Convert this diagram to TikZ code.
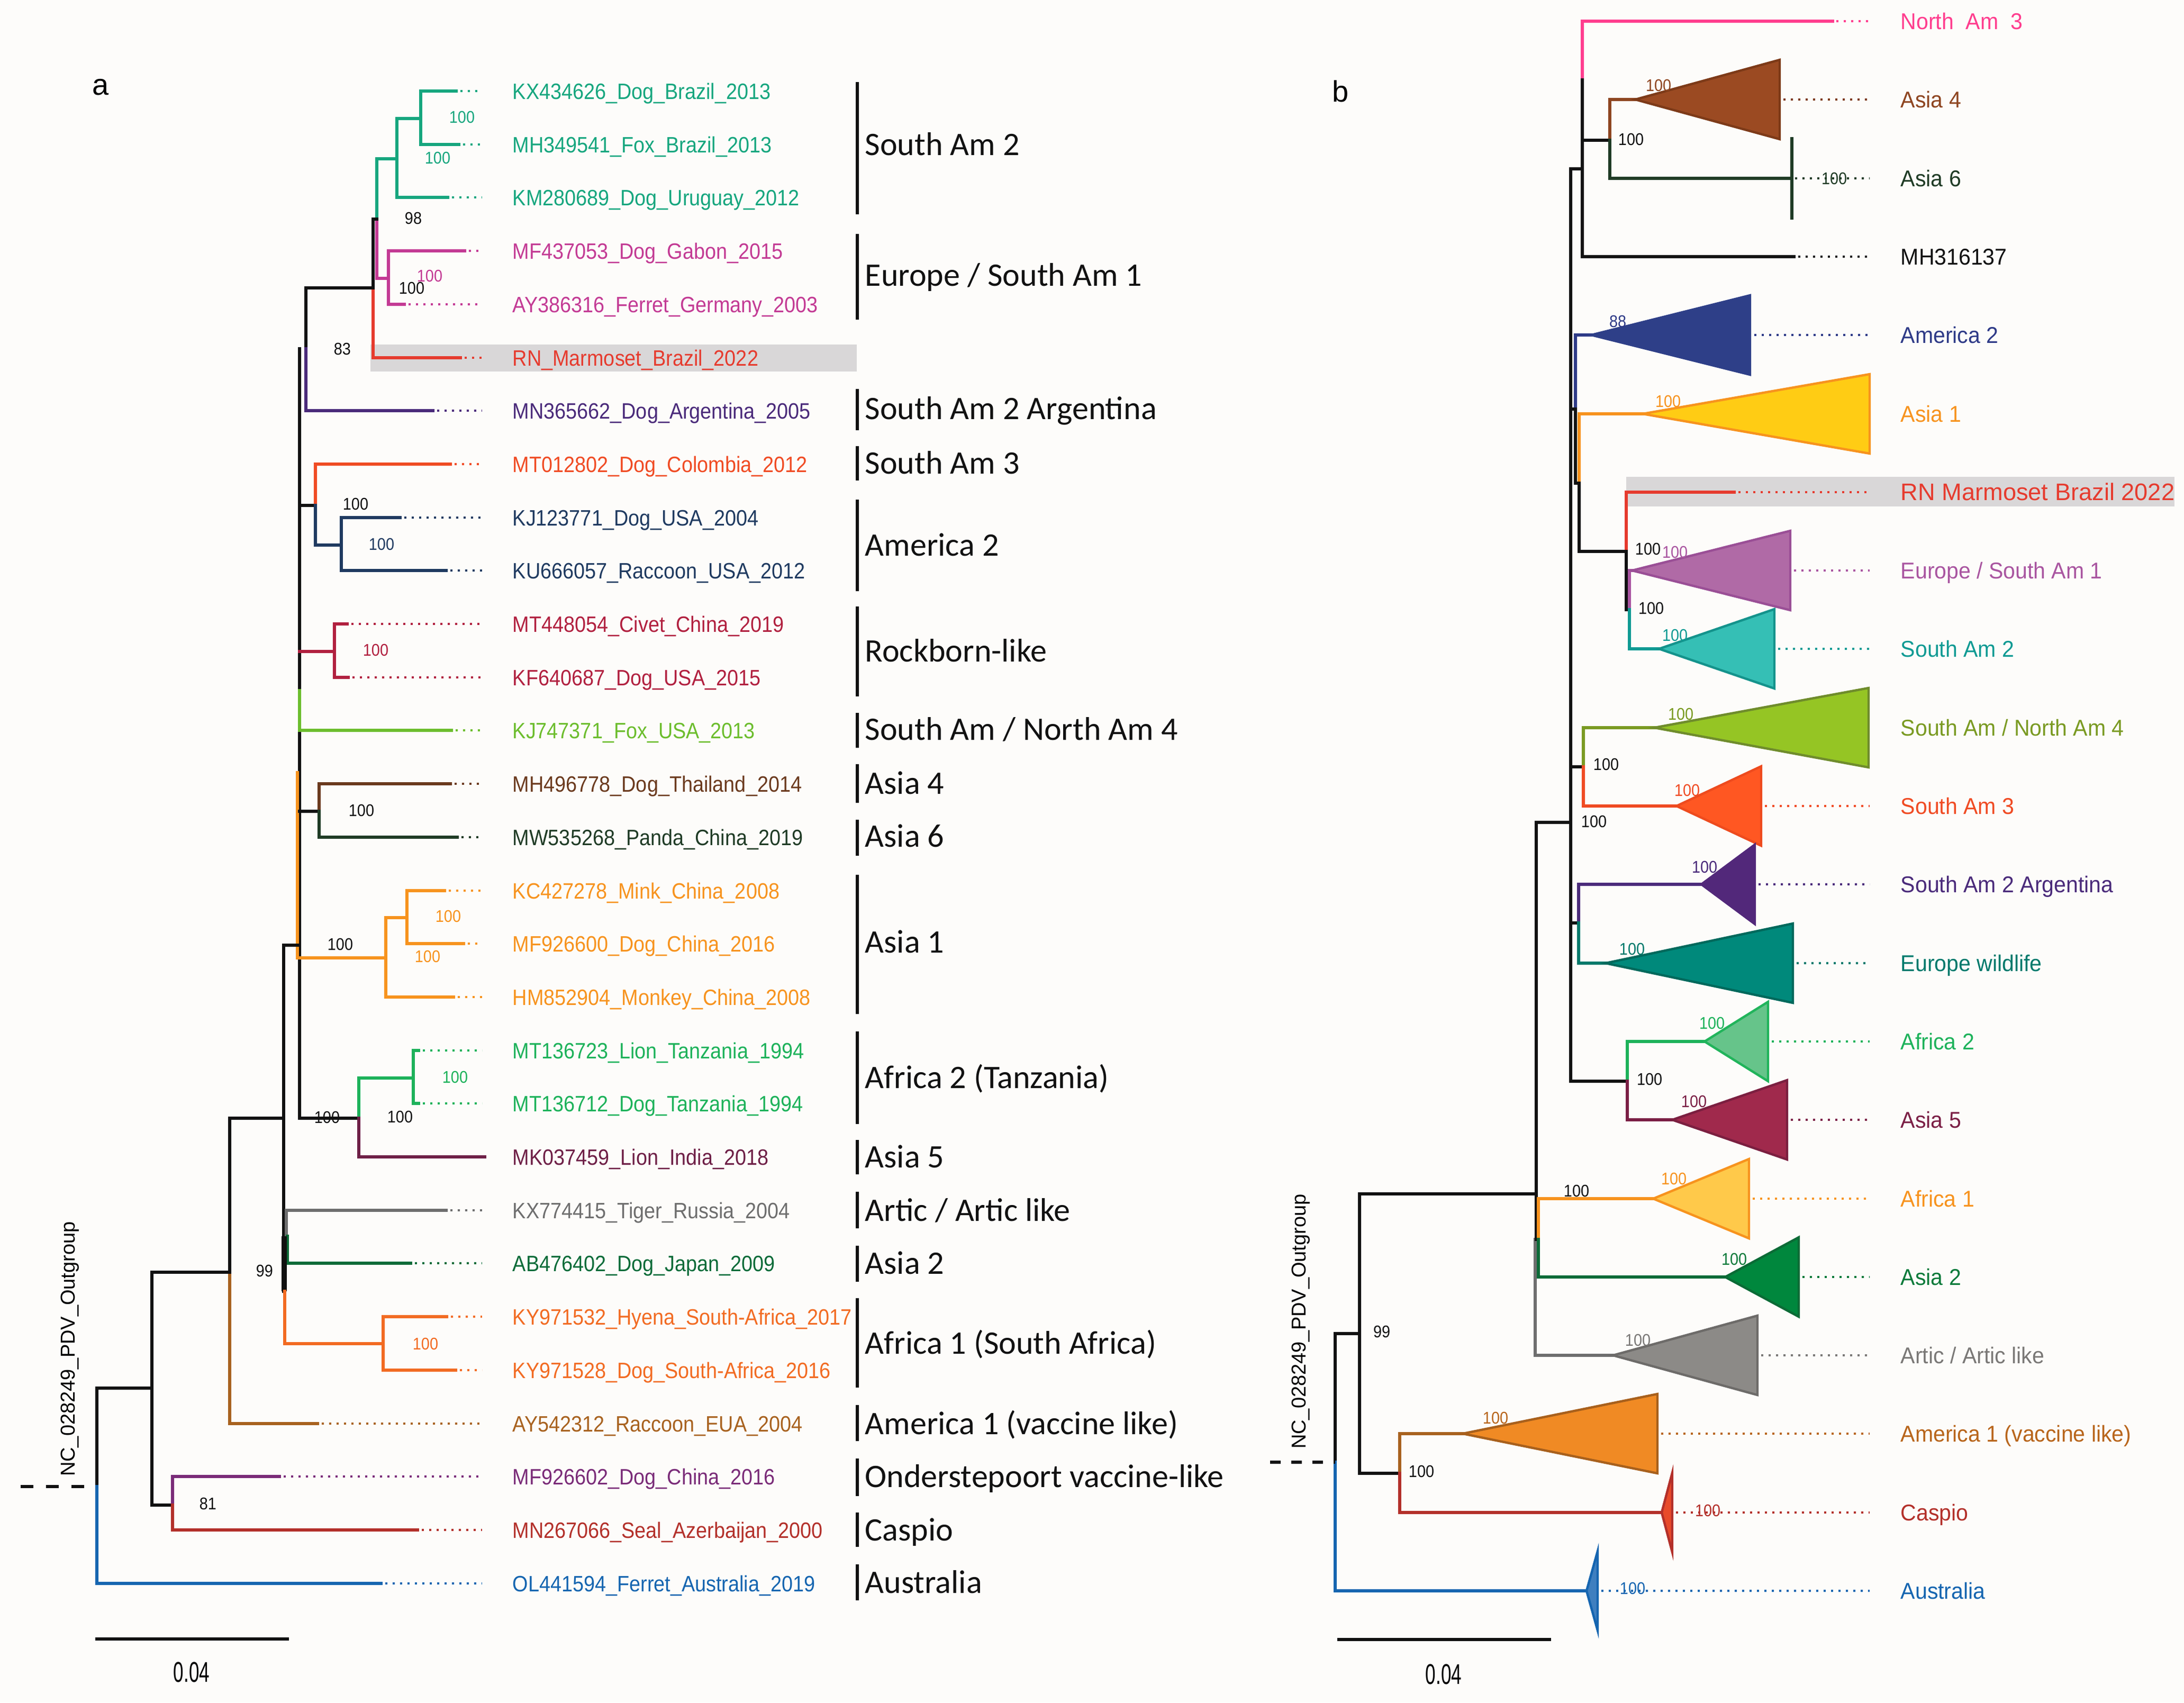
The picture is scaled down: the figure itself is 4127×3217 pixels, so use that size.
\documentclass[tikz,border=0pt]{standalone}
\usepackage{fontspec}
\newfontfamily\tipf[FakeStretch=0.9]{Liberation Sans}
\newfontfamily\rtf[FakeStretch=0.95]{Liberation Sans}
\newfontfamily\cladef{Carlito}
\newfontfamily\plainf{Liberation Sans}
\newfontfamily\scalef[FakeStretch=0.65]{Liberation Sans}
% left colours
\definecolor{bgc}{HTML}{FDFCFA}
\definecolor{hlgrey}{HTML}{D9D7D8}
\definecolor{sa2g}{HTML}{16A67E}
\definecolor{eupk}{HTML}{C33A94}
\definecolor{rnred}{HTML}{E63B2E}
\definecolor{argpu}{HTML}{4A2A7A}
\definecolor{sa3r}{HTML}{F04B23}
\definecolor{am2n}{HTML}{1F3A60}
\definecolor{rockc}{HTML}{B1203F}
\definecolor{lime}{HTML}{6CBD2D}
\definecolor{a4br}{HTML}{6B3A1E}
\definecolor{a6dg}{HTML}{1F3B25}
\definecolor{a1or}{HTML}{F7931E}
\definecolor{af2g}{HTML}{1DB25A}
\definecolor{a5m}{HTML}{6E1F46}
\definecolor{artg}{HTML}{6E6E6E}
\definecolor{a2dg}{HTML}{0D6B38}
\definecolor{af1o}{HTML}{F26B22}
\definecolor{am1b}{HTML}{A8621F}
\definecolor{ondp}{HTML}{7A2B78}
\definecolor{caspr}{HTML}{B3302A}
\definecolor{ausb}{HTML}{1565B0}
\definecolor{ink}{HTML}{111111}
% right colours
\definecolor{na3}{HTML}{FF3D8E}
\definecolor{ra4}{HTML}{8E4520}\definecolor{ra4f}{HTML}{9B4A22}\definecolor{ra4d}{HTML}{7D3A18}
\definecolor{ram2}{HTML}{2E3A87}\definecolor{ram2f}{HTML}{2E3F88}
\definecolor{ra1f}{HTML}{FFCC14}
\definecolor{reu}{HTML}{A955A0}\definecolor{reuf}{HTML}{B06AA6}\definecolor{reud}{HTML}{9A4F96}
\definecolor{rsa2}{HTML}{109A93}\definecolor{rsa2f}{HTML}{35BFB5}\definecolor{rsa2d}{HTML}{14938C}
\definecolor{rna4}{HTML}{7A9A22}\definecolor{rna4f}{HTML}{95C524}\definecolor{rna4d}{HTML}{6F8C2C}
\definecolor{rsa3f}{HTML}{FF5722}\definecolor{rsa3d}{HTML}{EE4B1E}
\definecolor{rargf}{HTML}{52287A}
\definecolor{rew}{HTML}{00796B}\definecolor{rewf}{HTML}{00897B}\definecolor{rewd}{HTML}{00695C}
\definecolor{raf2f}{HTML}{66C48A}\definecolor{raf2d}{HTML}{21B45B}
\definecolor{ra5}{HTML}{7B1F45}\definecolor{ra5f}{HTML}{A0294C}\definecolor{ra5d}{HTML}{7B1F40}
\definecolor{raf1f}{HTML}{FFC94A}
\definecolor{ra2}{HTML}{0D7A3A}\definecolor{ra2f}{HTML}{00873D}\definecolor{ra2d}{HTML}{0B6B36}
\definecolor{rart}{HTML}{7A7876}\definecolor{rartf}{HTML}{8C8A87}\definecolor{rartd}{HTML}{6D6B69}
\definecolor{ram1}{HTML}{B8651B}\definecolor{ram1f}{HTML}{F08A24}\definecolor{ram1d}{HTML}{A8601C}
\definecolor{rcaspf}{HTML}{E84A2A}
\definecolor{rausf}{HTML}{3F7FBF}
\newcommand{\ctri}[5]{\filldraw[tri, fill=#4, draw=#5] (#1,#3) -- (#2,#3-75) -- (#2,#3+75) -- cycle;}
\begin{document}
\begin{tikzpicture}[x=0.25pt,y=-0.25pt,
 br/.style={line width=1.4pt, line cap=rect},
 lead/.style={line width=1.1pt, dash pattern=on 1.1pt off 2.4pt, line cap=butt},
 tip/.style={anchor=base west, inner sep=0, font=\tipf\fontsize{10.5}{12}\selectfont},
 bsl/.style={inner sep=0, font=\tipf\fontsize{8}{9}\selectfont},
 clade/.style={anchor=base west, inner sep=0, text=ink, font=\cladef\fontsize{15.5}{18}\selectfont},
 cbar/.style={line width=1.6pt, ink},
 rlab/.style={anchor=base west, inner sep=0, font=\rtf\fontsize{10.8}{12}\selectfont},
 tri/.style={line width=1.1pt, line join=miter},
 panel/.style={inner sep=0, font=\plainf\fontsize{14}{16}\selectfont},
 outg/.style={inner sep=0, rotate=90, font=\plainf\fontsize{9.5}{11}\selectfont},
 scl/.style={inner sep=0, font=\scalef\fontsize{13.5}{15}\selectfont}]
\useasboundingbox (0,0) rectangle (4127,3217);
\fill[bgc] (0,0) rectangle (4127,3217);

% ================= LEFT PANEL =================
\node[panel] (pa) at (190,165) {a};
\fill[hlgrey] (700,651) rectangle (1619,702);

% South Am 2 (green)
\draw[br,sa2g] (795,172) -- (862,172);
\draw[br,sa2g] (795,273) -- (867,273);
\draw[br,sa2g] (795,172) -- (795,273);
\draw[br,sa2g] (750,224) -- (795,224);
\draw[br,sa2g] (750,224) -- (750,373) -- (846,373);
\draw[br,sa2g] (712,414) -- (712,300) -- (750,300);
% Europe / South Am 1 (pink)
\draw[br,eupk] (712,414) -- (712,526) -- (734,526);
\draw[br,eupk] (734,474) -- (734,575);
\draw[br,eupk] (734,474) -- (878,474);
\draw[br,eupk] (734,575) -- (764,575);
% RN
\draw[br,ink] (705,414) -- (712,414);
\draw[br,ink] (705,544) -- (705,414);
\draw[br,rnred] (705,544) -- (705,676) -- (870,676);
\draw[br,ink] (578,544) -- (705,544);
\draw[br,ink] (578,659) -- (578,544);
\draw[br,argpu] (578,659) -- (578,776) -- (818,776);
% backbone N_C
\draw[br,ink] (566,659) -- (566,2113);
\draw[br,lime] (566,1305) -- (566,1380) -- (853,1380);
\draw[br,a1or] (562,1460) -- (562,1810) -- (729,1810);
% South Am 3 / America 2
\draw[br,ink] (566,955) -- (596,955);
\draw[br,sa3r] (596,955) -- (596,877) -- (851,877);
\draw[br,am2n] (596,955) -- (596,1030) -- (645,1030);
\draw[br,am2n] (645,978) -- (645,1078);
\draw[br,am2n] (645,978) -- (756,978);
\draw[br,am2n] (645,1078) -- (843,1078);
% Rockborn
\draw[br,rockc] (566,1231) -- (632,1231);
\draw[br,rockc] (632,1179) -- (632,1280);
\draw[br,rockc] (632,1179) -- (656,1179);
\draw[br,rockc] (632,1280) -- (658,1280);
% Asia 4 / 6
\draw[br,ink] (566,1533) -- (603,1533);
\draw[br,a4br] (603,1533) -- (603,1481) -- (851,1481);
\draw[br,a6dg] (603,1533) -- (603,1582) -- (864,1582);
% Asia 1
\draw[br,a1or] (729,1734) -- (729,1884) -- (857,1884);
\draw[br,a1or] (729,1734) -- (769,1734);
\draw[br,a1or] (769,1683) -- (769,1783);
\draw[br,a1or] (769,1683) -- (840,1683);
\draw[br,a1or] (769,1783) -- (876,1783);
% Africa 2 / Asia 5
\draw[br,ink] (566,2113) -- (678,2113);
\draw[br,af2g] (678,2113) -- (678,2037) -- (781,2037);
\draw[br,af2g] (781,1985) -- (781,2085);
\draw[br,af2g] (781,1985) -- (791,1985);
\draw[br,af2g] (781,2085) -- (791,2085);
\draw[br,a5m] (678,2113) -- (678,2186) -- (916,2186);
% N_B
\draw[br,ink] (536,1786) -- (566,1786);
\draw[br,ink] (536,1786) -- (536,2440);
\draw[br,artg] (541,2336) -- (541,2287) -- (843,2287);
\draw[br,a2dg] (543,2336) -- (543,2387) -- (776,2387);
\draw[line width=2.4pt,ink] (537,2336) -- (537,2440);
\draw[br,af1o] (538,2440) -- (538,2539) -- (724,2539);
\draw[br,af1o] (724,2488) -- (724,2589);
\draw[br,af1o] (724,2488) -- (844,2488);
\draw[br,af1o] (724,2589) -- (861,2589);
\draw[br,ink] (434,2113) -- (536,2113);
% N_A
\draw[br,ink] (434,2404) -- (434,2113);
\draw[br,am1b] (434,2404) -- (434,2690) -- (600,2690);
\draw[br,ink] (287,2404) -- (434,2404);
% N_R, N_O
\draw[br,ink] (287,2404) -- (287,2844) -- (326,2844);
\draw[br,ink] (183,2623) -- (287,2623);
\draw[br,ondp] (326,2844) -- (326,2790) -- (528,2790);
\draw[br,caspr] (326,2844) -- (326,2891) -- (789,2891);
% root
\draw[br,ink] (183,2809) -- (183,2623);
\draw[br,ausb] (183,2809) -- (183,2992) -- (720,2992);
\draw[line width=1.4pt,ink,dash pattern=on 6pt off 6pt] (39,2809) -- (183,2809);

% tip leaders and labels
\foreach \y/\t/\c/\x [count=\i] in {
172/KX434626\_Dog\_Brazil\_2013/sa2g/862,
273/MH349541\_Fox\_Brazil\_2013/sa2g/867,
373/KM280689\_Dog\_Uruguay\_2012/sa2g/846,
474/MF437053\_Dog\_Gabon\_2015/eupk/878,
575/AY386316\_Ferret\_Germany\_2003/eupk/764,
676/RN\_Marmoset\_Brazil\_2022/rnred/870,
776/MN365662\_Dog\_Argentina\_2005/argpu/818,
877/MT012802\_Dog\_Colombia\_2012/sa3r/851,
978/KJ123771\_Dog\_USA\_2004/am2n/756,
1078/KU666057\_Raccoon\_USA\_2012/am2n/843,
1179/MT448054\_Civet\_China\_2019/rockc/656,
1280/KF640687\_Dog\_USA\_2015/rockc/658,
1380/KJ747371\_Fox\_USA\_2013/lime/853,
1481/MH496778\_Dog\_Thailand\_2014/a4br/851,
1582/MW535268\_Panda\_China\_2019/a6dg/864,
1683/KC427278\_Mink\_China\_2008/a1or/840,
1783/MF926600\_Dog\_China\_2016/a1or/876,
1884/HM852904\_Monkey\_China\_2008/a1or/857,
1985/MT136723\_Lion\_Tanzania\_1994/af2g/791,
2085/MT136712\_Dog\_Tanzania\_1994/af2g/791,
2186/MK037459\_Lion\_India\_2018/a5m/903,
2287/KX774415\_Tiger\_Russia\_2004/artg/843,
2387/AB476402\_Dog\_Japan\_2009/a2dg/776,
2488/KY971532\_Hyena\_South-Africa\_2017/af1o/844,
2589/KY971528\_Dog\_South-Africa\_2016/af1o/861,
2690/AY542312\_Raccoon\_EUA\_2004/am1b/600,
2790/MF926602\_Dog\_China\_2016/ondp/528,
2891/MN267066\_Seal\_Azerbaijan\_2000/caspr/789,
2992/OL441594\_Ferret\_Australia\_2019/ausb/720}{
 \draw[lead,\c] (\x+8,\y) -- (911,\y);
 \node[tip,text=\c] (tipL\i) at (968,\y+15) {\t};
}

% bootstrap values (left)
\node[bsl,text=sa2g] (bl1) at (873,221) {100};
\node[bsl,text=sa2g] (bl2) at (827,298) {100};
\node[bsl,text=ink] (bl3) at (781,412) {98};
\node[bsl,text=eupk] (bl4) at (812,521) {100};
\node[bsl,text=ink] (bl5) at (778,544) {100};
\node[bsl,text=ink] (bl6) at (647,659) {83};
\node[bsl,text=ink] (bl7) at (672,952) {100};
\node[bsl,text=am2n] (bl8) at (721,1028) {100};
\node[bsl,text=rockc] (bl9) at (710,1228) {100};
\node[bsl,text=ink] (bl10) at (683,1531) {100};
\node[bsl,text=ink] (bl11) at (643,1784) {100};
\node[bsl,text=a1or] (bl12) at (847,1731) {100};
\node[bsl,text=a1or] (bl13) at (808,1807) {100};
\node[bsl,text=af2g] (bl14) at (860,2035) {100};
\node[bsl,text=ink] (bl15) at (618,2111) {100};
\node[bsl,text=ink] (bl16) at (756,2110) {100};
\node[bsl,text=ink] (bl17) at (500,2401) {99};
\node[bsl,text=af1o] (bl18) at (804,2539) {100};
\node[bsl,text=ink] (bl19) at (393,2841) {81};

% clade bars and labels
\foreach \a/\b/\c/\t [count=\i] in {
155/405/273/South Am 2,
735/813/772/South Am 2 Argentina,
843/908/875/South Am 3,
944/1117/1030/America 2,
1146/1316/1230/Rockborn-like,
1444/1517/1480/Asia 4,
1549/1617/1580/Asia 6,
1653/1916/1780/Asia 1,
1949/2124/2036/Africa 2 (Tanzania),
2154/2219/2186/Asia 5,
2354/2422/2387/Asia 2,
2453/2622/2538/Africa 1 (South Africa),
2655/2723/2690/America 1 (vaccine like),
2756/2827/2790/Onderstepoort vaccine-like,
2858/2923/2891/Caspio,
2956/3024/2990/Australia}{
 \draw[cbar] (1620,\a) -- (1620,\b);
 \node[clade] (cl\i) at (1634,\c+20) {\t};
}
\draw[cbar] (1620,442) -- (1620,604);
\node[clade] (clEu) at (1634,540) {Europe / South Am 1};
\draw[cbar] (1620,1347) -- (1620,1413);
\node[clade] (clNA4) at (1634,1398) {South Am / North Am 4};
\draw[cbar] (1620,2252) -- (1620,2321);
\node[clade] (clArt) at (1634,2307) {Artic / Artic like};

% outgroup and scale (left)
\node[outg] (ogL) at (132,2549) {NC\_028249\_PDV\_Outgroup};
\draw[line width=1.4pt,ink] (180,3097) -- (546,3097);
\node[scl] (sL) at (362,3160) {0.04};

% ================= RIGHT PANEL =================
\node[panel] (pb) at (2533,172) {b};
\fill[hlgrey] (3073,901) rectangle (4109,957);

% top group
\draw[br,na3] (2990,151) -- (2990,40) -- (3463,40);
\draw[br,ink] (2990,151) -- (2990,485) -- (3390,485);
\draw[br,ink] (2968,319) -- (2990,319);
\draw[br,ink] (2990,265) -- (3042,265);
\draw[br,ra4] (3042,265) -- (3042,188) -- (3090,188);
\draw[br,a6dg] (3042,265) -- (3042,337) -- (3386,337);
\draw[br,a6dg] (3386,262) -- (3386,412);
% backbone
\draw[br,ink] (2968,319) -- (2968,2043);
\draw[br,ink] (2903,1554) -- (2968,1554);
% America 2 / Asia 1 / RN group
\draw[br,ink] (2968,773) -- (2977,773);
\draw[br,ram2] (2977,773) -- (2977,633) -- (3007,633);
\draw[br,ink] (2977,773) -- (2977,913) -- (2984,913);
\draw[br,a1or] (2984,913) -- (2984,782) -- (3104,782);
\draw[br,ink] (2984,913) -- (2984,1042) -- (3073,1042);
\draw[br,rnred] (3073,1042) -- (3073,930) -- (3277,930);
\draw[br,ink] (3073,1042) -- (3073,1152) -- (3079,1152);
\draw[br,reu] (3079,1152) -- (3079,1078) -- (3084,1078);
\draw[br,rsa2] (3079,1152) -- (3079,1226) -- (3135,1226);
% SA/NA4 + SA3
\draw[br,ink] (2968,1449) -- (2992,1449);
\draw[br,rna4] (2992,1449) -- (2992,1375) -- (3126,1375);
\draw[br,sa3r] (2992,1449) -- (2992,1523) -- (3168,1523);
% Arg + Europe wildlife
\draw[br,ink] (2968,1744) -- (2983,1744);
\draw[br,argpu] (2983,1744) -- (2983,1671) -- (3215,1671);
\draw[br,rew] (2983,1744) -- (2983,1820) -- (3034,1820);
% Africa 2 + Asia 5
\draw[br,ink] (2968,2043) -- (3075,2043);
\draw[br,af2g] (3075,2043) -- (3075,1968) -- (3221,1968);
\draw[br,ra5] (3075,2043) -- (3075,2116) -- (3160,2116);
% N_7
\draw[br,ink] (2903,1554) -- (2903,2342);
\draw[br,artg] (2901,2342) -- (2901,2561) -- (3048,2561);
\draw[br,ink] (2903,2342) -- (2907,2342);
\draw[br,a1or] (2907,2342) -- (2907,2265) -- (3124,2265);
\draw[br,a2dg] (2907,2342) -- (2907,2413) -- (3260,2413);
% N_8, N_9, root
\draw[br,ink] (2569,2520) -- (2569,2256) -- (2903,2256);
\draw[br,ink] (2569,2520) -- (2569,2784) -- (2645,2784);
\draw[br,am1b] (2645,2784) -- (2645,2709) -- (2764,2709);
\draw[br,caspr] (2645,2784) -- (2645,2858) -- (3143,2858);
\draw[br,ink] (2523,2763) -- (2523,2520) -- (2569,2520);
\draw[br,ausb] (2523,2763) -- (2523,3006) -- (3000,3006);
\draw[line width=1.4pt,ink,dash pattern=on 5pt off 5pt] (2400,2763) -- (2523,2763);

% collapsed clades
\ctri{3090}{3363}{188}{ra4f}{ra4d}
\ctri{3007}{3307}{633}{ram2f}{ram2f}
\ctri{3104}{3533}{782}{ra1f}{a1or}
\ctri{3084}{3383}{1078}{reuf}{reud}
\ctri{3135}{3353}{1226}{rsa2f}{rsa2d}
\ctri{3126}{3531}{1375}{rna4f}{rna4d}
\ctri{3168}{3328}{1523}{rsa3f}{rsa3d}
\ctri{3215}{3316}{1671}{rargf}{rargf}
\ctri{3034}{3388}{1820}{rewf}{rewd}
\ctri{3221}{3341}{1968}{raf2f}{raf2d}
\ctri{3160}{3377}{2116}{ra5f}{ra5d}
\ctri{3124}{3305}{2265}{raf1f}{a1or}
\ctri{3260}{3399}{2413}{ra2f}{ra2d}
\ctri{3048}{3321}{2561}{rartf}{rartd}
\ctri{2764}{3132}{2709}{ram1f}{ram1d}
\ctri{3140}{3160}{2858}{rcaspf}{caspr}
\ctri{2998}{3019}{3006}{rausf}{ausb}

% right leaders
\foreach \s/\y/\c in {3470/40/na3, 3370/188/ra4d, 3392/337/a6dg, 3398/485/ink,
 3315/633/ram2, 3285/930/rnred, 3390/1078/reu, 3360/1226/rsa2, 3335/1523/sa3r,
 3323/1671/argpu, 3395/1820/rew, 3348/1968/af2g, 3384/2116/ra5, 3312/2265/a1or,
 3406/2413/ra2, 3328/2561/rart, 3139/2709/ram1, 3167/2858/caspr, 3026/3006/ausb}{
 \draw[lead,\c] (\s,\y) -- (3533,\y);
}

% right labels
\node[rlab,text=na3] (rl0) at (3591,55) {North\ \ Am\ \ 3};
\node[rlab,text=ra4] (rl1) at (3591,203) {Asia 4};
\node[rlab,text=a6dg] (rl2) at (3591,352) {Asia 6};
\node[rlab,text=ink] (rl3) at (3591,500) {MH316137};
\node[rlab,text=ram2] (rl4) at (3591,648) {America 2};
\node[rlab,text=a1or] (rl5) at (3591,797) {Asia 1};
\node[rlab,text=rnred,font=\plainf\fontsize{11.3}{12}\selectfont] (rl6) at (3591,945) {RN Marmoset Brazil 2022};
\node[rlab,text=reu] (rl7) at (3591,1093) {Europe / South Am 1};
\node[rlab,text=rsa2] (rl8) at (3591,1241) {South Am 2};
\node[rlab,text=rna4] (rl9) at (3591,1390) {South Am / North Am 4};
\node[rlab,text=sa3r] (rl10) at (3591,1538) {South Am 3};
\node[rlab,text=argpu] (rl11) at (3591,1686) {South Am 2 Argentina};
\node[rlab,text=rew] (rl12) at (3591,1835) {Europe wildlife};
\node[rlab,text=af2g] (rl13) at (3591,1983) {Africa 2};
\node[rlab,text=ra5] (rl14) at (3591,2131) {Asia 5};
\node[rlab,text=a1or] (rl15) at (3591,2280) {Africa 1};
\node[rlab,text=ra2] (rl16) at (3591,2428) {Asia 2};
\node[rlab,text=rart] (rl17) at (3591,2576) {Artic / Artic like};
\node[rlab,text=ram1] (rl18) at (3591,2724) {America 1 (vaccine like)};
\node[rlab,text=caspr] (rl19) at (3591,2873) {Caspio};
\node[rlab,text=ausb] (rl20) at (3591,3021) {Australia};

% right bootstraps
\node[bsl,text=ra4] (br1) at (3134,161) {100};
\node[bsl,text=ink] (br2) at (3082,263) {100};
\node[bsl,text=a6dg] (br3) at (3466,337) {100};
\node[bsl,text=ram2] (br4) at (3057,607) {88};
\node[bsl,text=a1or] (br5) at (3152,758) {100};
\node[bsl,text=ink] (br6) at (3114,1037) {100};
\node[bsl,text=reu] (br7) at (3165,1043) {100};
\node[bsl,text=ink] (br8) at (3120,1149) {100};
\node[bsl,text=rsa2] (br9) at (3165,1200) {100};
\node[bsl,text=rna4] (br10) at (3176,1349) {100};
\node[bsl,text=ink] (br11) at (3035,1444) {100};
\node[bsl,text=sa3r] (br12) at (3188,1493) {100};
\node[bsl,text=ink] (br13) at (3012,1552) {100};
\node[bsl,text=argpu] (br14) at (3221,1638) {100};
\node[bsl,text=rew] (br15) at (3084,1793) {100};
\node[bsl,text=af2g] (br16) at (3235,1933) {100};
\node[bsl,text=ink] (br17) at (3117,2039) {100};
\node[bsl,text=ra5] (br18) at (3201,2081) {100};
\node[bsl,text=ink] (br19) at (2979,2250) {100};
\node[bsl,text=a1or] (br20) at (3163,2227) {100};
\node[bsl,text=ra2] (br21) at (3277,2379) {100};
\node[bsl,text=rart] (br22) at (3095,2532) {100};
\node[bsl,text=ink] (br23) at (2611,2516) {99};
\node[bsl,text=ram1] (br24) at (2826,2679) {100};
\node[bsl,text=ink] (br25) at (2686,2780) {100};
\node[bsl,text=caspr] (br26) at (3227,2854) {100};
\node[bsl,text=ausb] (br27) at (3085,3001) {100};

% outgroup and scale (right)
\node[outg] (ogR) at (2458,2497) {NC\_028249\_PDV\_Outgroup};
\draw[line width=1.4pt,ink] (2527,3098) -- (2931,3098);
\node[scl] (sR) at (2728,3164) {0.04};
\end{tikzpicture}
\end{document}
